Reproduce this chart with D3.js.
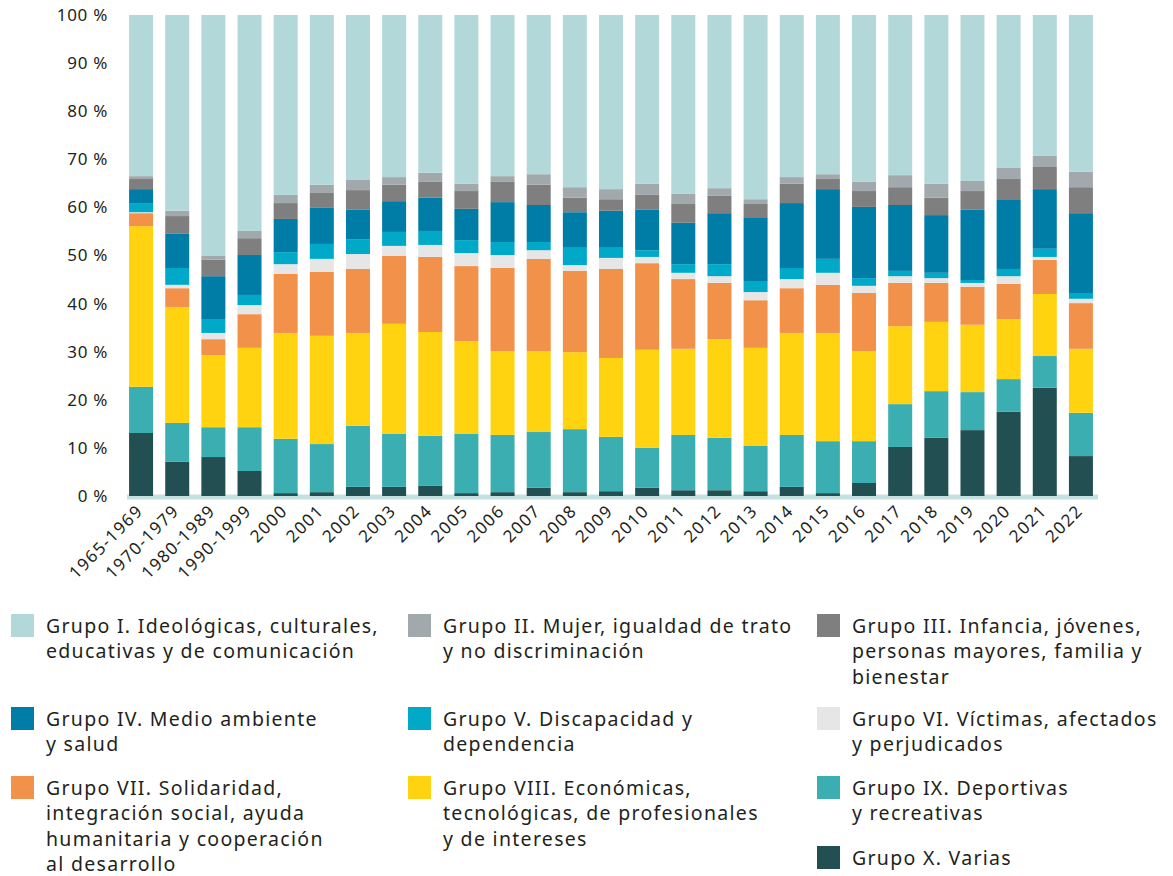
<!DOCTYPE html>
<html>
<head>
<meta charset="utf-8">
<script src="https://cdn.jsdelivr.net/npm/d3@7"></script>
<style>
  body { margin: 0; background: #fff; }
  text { font-family: "Noto Sans", sans-serif; fill: #231f20; }
</style>
</head>
<body>
<div id="vis"></div>
<script>
var width = 1173;
var height = 876;

// periods on the x axis
var categories = ['1965-1969', '1970-1979', '1980-1989', '1990-1999', '2000', '2001', '2002',
  '2003', '2004', '2005', '2006', '2007', '2008', '2009', '2010', '2011', '2012', '2013',
  '2014', '2015', '2016', '2017', '2018', '2019', '2020', '2021', '2022'];

// share (%) of each group, stacked from the bottom (X) to the top (I)
var grupoX = [13.1, 7.1, 8.1, 5.2, 0.6, 0.8, 1.9, 1.9, 2.1, 0.6, 0.8, 1.7, 0.8, 1.0, 1.7, 1.2, 1.2, 1.0, 1.9, 0.6, 2.7, 10.2, 12.1, 13.7, 17.5, 22.5, 8.3];
var grupoIX = [9.6, 8.1, 6.2, 9.1, 11.3, 10.0, 12.7, 11.0, 10.4, 12.3, 11.9, 11.6, 13.1, 11.3, 8.3, 11.5, 10.9, 9.4, 10.8, 10.8, 8.7, 8.9, 9.7, 7.9, 6.8, 6.6, 9.0];
var grupoVIII = [33.4, 24.1, 15.0, 16.5, 22.0, 22.5, 19.3, 22.9, 21.6, 19.3, 17.4, 16.8, 16.0, 16.4, 20.4, 17.9, 20.5, 20.4, 21.2, 22.5, 18.7, 16.2, 14.4, 14.0, 12.5, 12.9, 13.3];
var grupoVII = [2.7, 3.9, 3.3, 7.0, 12.3, 13.3, 13.3, 14.1, 15.6, 15.6, 17.3, 19.2, 16.9, 18.5, 18.0, 14.5, 11.7, 9.9, 9.3, 10.0, 12.1, 9.0, 8.1, 7.9, 7.3, 7.1, 9.5];
var grupoVI = [0.2, 0.7, 1.3, 1.9, 2.0, 2.7, 3.1, 2.1, 2.5, 2.7, 2.7, 1.8, 1.2, 2.3, 1.3, 1.3, 1.4, 1.7, 1.9, 2.5, 1.5, 1.4, 1.0, 0.8, 1.6, 0.6, 0.9];
var grupoV = [1.9, 3.5, 2.9, 2.1, 2.5, 3.1, 3.1, 2.9, 2.9, 2.7, 2.7, 1.7, 3.6, 2.1, 1.4, 1.8, 2.5, 2.3, 2.3, 2.9, 1.6, 1.1, 1.1, 0.6, 1.5, 1.7, 1.2];
var grupoIV = [2.9, 7.1, 8.9, 8.3, 6.9, 7.5, 6.1, 6.4, 6.9, 6.5, 8.3, 7.7, 7.4, 7.7, 8.4, 8.6, 10.6, 13.1, 13.5, 14.5, 14.8, 13.7, 12.0, 14.6, 14.5, 12.4, 16.6];
var grupoIII = [2.1, 3.7, 3.4, 3.5, 3.3, 3.1, 4.1, 3.4, 3.3, 3.7, 4.2, 4.2, 3.0, 2.4, 3.1, 3.9, 3.6, 2.9, 4.0, 2.1, 3.3, 3.7, 3.6, 3.9, 4.2, 4.6, 5.4];
var grupoII = [0.6, 1.1, 0.8, 1.5, 1.7, 1.7, 2.1, 1.6, 1.9, 1.5, 1.2, 2.2, 2.2, 2.1, 2.3, 2.1, 1.6, 1.0, 1.4, 1.0, 1.9, 2.5, 2.9, 2.1, 2.3, 2.3, 3.2];
var grupoI = [33.5, 40.7, 50.1, 44.9, 37.4, 35.3, 34.3, 33.7, 32.8, 35.1, 33.5, 33.1, 35.8, 36.2, 35.1, 37.2, 36.0, 38.3, 33.7, 33.1, 34.7, 33.3, 35.1, 34.5, 31.8, 29.3, 32.6];

var yTicks = [0, 10, 20, 30, 40, 50, 60, 70, 80, 90, 100];

// legend text, already split in lines
var legendLabels = {
  I: ['Grupo I. Ideológicas, culturales,', 'educativas y de comunicación'],
  II: ['Grupo II. Mujer, igualdad de trato', 'y no discriminación'],
  III: ['Grupo III. Infancia, jóvenes,', 'personas mayores, familia y', 'bienestar'],
  IV: ['Grupo IV. Medio ambiente', 'y salud'],
  V: ['Grupo V. Discapacidad y', 'dependencia'],
  VI: ['Grupo VI. Víctimas, afectados', 'y perjudicados'],
  VII: ['Grupo VII. Solidaridad,', 'integración social, ayuda', 'humanitaria y cooperación', 'al desarrollo'],
  VIII: ['Grupo VIII. Económicas,', 'tecnológicas, de profesionales', 'y de intereses'],
  IX: ['Grupo IX. Deportivas', 'y recreativas'],
  X: ['Grupo X. Varias']
};

var keys = ['X', 'IX', 'VIII', 'VII', 'VI', 'V', 'IV', 'III', 'II', 'I'];
var series = { X: grupoX, IX: grupoIX, VIII: grupoVIII, VII: grupoVII, VI: grupoVI,
  V: grupoV, IV: grupoIV, III: grupoIII, II: grupoII, I: grupoI };

var color = d3.scaleOrdinal()
  .domain(['I', 'II', 'III', 'IV', 'V', 'VI', 'VII', 'VIII', 'IX', 'X'])
  .range(['#b3d8d9', '#a2a9ac', '#7f7f7f', '#007da7', '#00a9c8', '#e6e6e6',
    '#f2914a', '#ffd30f', '#3aaeb0', '#224f52']);

// build rows for d3.stack
var table = categories.map(function (c, i) {
  var row = { cat: c };
  keys.forEach(function (k) { row[k] = series[k][i]; });
  return row;
});
var stacked = d3.stack().keys(keys)(table);

var svg = d3.select('#vis').append('svg')
  .attr('width', width)
  .attr('height', height);

var x = d3.scaleBand()
  .domain(categories)
  .range([123, 1099])
  .paddingInner(0.336)
  .paddingOuter(0.168);

var y = d3.scaleLinear()
  .domain([0, 100])
  .range([496, 15]);

// baseline
svg.append('line')
  .attr('x1', 127).attr('x2', 1098)
  .attr('y1', y(0) + 1).attr('y2', y(0) + 1)
  .attr('stroke', '#c5e1e1')
  .attr('stroke-width', 5);

// bars
svg.append('g')
  .selectAll('g')
  .data(stacked)
  .enter().append('g')
    .attr('fill', function (d) { return color(d.key); })
  .selectAll('rect')
  .data(function (d) { return d; })
  .enter().append('rect')
    .attr('x', function (d) { return x(d.data.cat); })
    .attr('y', function (d) { return y(d[1]); })
    .attr('height', function (d) { return y(d[0]) - y(d[1]); })
    .attr('width', x.bandwidth());

// y axis labels
var yAxis = d3.axisLeft(y)
  .tickValues(yTicks)
  .tickSize(0)
  .tickPadding(0)
  .tickFormat(function (d) { return d + ' %'; });

var yg = svg.append('g')
  .attr('transform', 'translate(108,0)')
  .call(yAxis);
yg.select('.domain').remove();
yg.selectAll('text')
  .style('font-family', '"Noto Sans", sans-serif')
  .style('font-size', '17px')
  .style('letter-spacing', '0.7px')
  .attr('fill', '#231f20');

// x labels, rotated
svg.append('g')
  .selectAll('text')
  .data(categories)
  .enter().append('text')
    .attr('transform', function (d) {
      return 'translate(' + (x(d) + x.bandwidth() / 2 + 3) + ',512) rotate(-45)';
    })
    .attr('text-anchor', 'end')
    .style('font-size', '17px')
    .style('letter-spacing', '1.4px')
    .text(function (d) { return d; });

// legend
var legendCols = [11, 408, 817];
var legendRows = [614, 707, 776, 846];
var legendOrder = [
  ['I', 0, 0], ['II', 1, 0], ['III', 2, 0],
  ['IV', 0, 1], ['V', 1, 1], ['VI', 2, 1],
  ['VII', 0, 2], ['VIII', 1, 2], ['IX', 2, 2],
  ['X', 2, 3]
];

var item = svg.append('g')
  .selectAll('g')
  .data(legendOrder)
  .enter().append('g')
    .attr('transform', function (d) {
      return 'translate(' + legendCols[d[1]] + ',' + legendRows[d[2]] + ')';
    });

item.append('rect')
  .attr('width', 23)
  .attr('height', 23)
  .attr('fill', function (d) { return color(d[0]); });

item.append('text')
  .style('font-size', '19.5px')
  .style('letter-spacing', '1.3px')
  .attr('x', 35)
  .attr('y', 19)
  .selectAll('tspan')
  .data(function (d) { return legendLabels[d[0]]; })
  .enter().append('tspan')
    .attr('x', 35)
    .attr('dy', function (d, i) { return i === 0 ? 0 : 25.3; })
    .text(function (d) { return d; });
</script>
</body>
</html>
